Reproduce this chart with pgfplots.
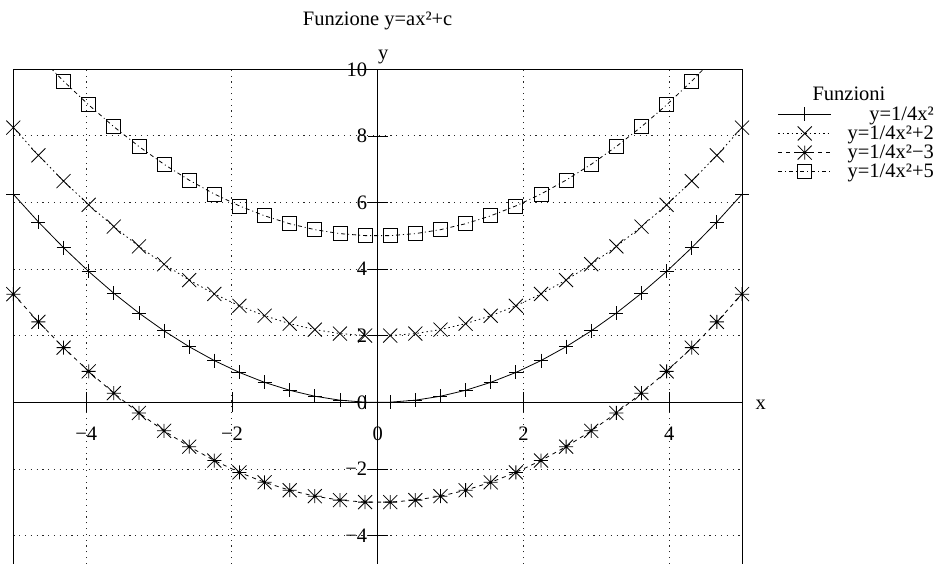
\documentclass[border=0pt]{standalone}
\usepackage{fontspec}
\setmainfont{Liberation Serif}
\usepackage{pgfplots}
\pgfplotsset{compat=1.18}
\usepackage{pgfplotstable}

% gnuplot-like point types
\pgfdeclareplotmark{gpcross}{%
  \pgfpathmoveto{\pgfqpoint{-\pgfplotmarksize}{-\pgfplotmarksize}}%
  \pgfpathlineto{\pgfqpoint{\pgfplotmarksize}{\pgfplotmarksize}}%
  \pgfpathmoveto{\pgfqpoint{-\pgfplotmarksize}{\pgfplotmarksize}}%
  \pgfpathlineto{\pgfqpoint{\pgfplotmarksize}{-\pgfplotmarksize}}%
  \pgfusepathqstroke}
\pgfdeclareplotmark{gpstar}{%
  \pgfpathmoveto{\pgfqpoint{-\pgfplotmarksize}{0pt}}%
  \pgfpathlineto{\pgfqpoint{\pgfplotmarksize}{0pt}}%
  \pgfpathmoveto{\pgfqpoint{0pt}{-\pgfplotmarksize}}%
  \pgfpathlineto{\pgfqpoint{0pt}{\pgfplotmarksize}}%
  \pgfpathmoveto{\pgfqpoint{-\pgfplotmarksize}{-\pgfplotmarksize}}%
  \pgfpathlineto{\pgfqpoint{\pgfplotmarksize}{\pgfplotmarksize}}%
  \pgfpathmoveto{\pgfqpoint{-\pgfplotmarksize}{\pgfplotmarksize}}%
  \pgfpathlineto{\pgfqpoint{\pgfplotmarksize}{-\pgfplotmarksize}}%
  \pgfusepathqstroke}

% y = x^2/4 + c sampled at 30 points on [-5,5]
\pgfplotstableread{
x y0 y2 ym3 y5
-5.000000 6.25000 8.25000 3.25000 11.25000
-4.655172 5.41766 7.41766 2.41766 10.41766
-4.310345 4.64477 6.64477 1.64477 9.64477
-3.965517 3.93133 5.93133 0.93133 8.93133
-3.620690 3.27735 5.27735 0.27735 8.27735
-3.275862 2.68282 4.68282 -0.31718 7.68282
-2.931034 2.14774 4.14774 -0.85226 7.14774
-2.586207 1.67212 3.67212 -1.32788 6.67212
-2.241379 1.25594 3.25594 -1.74406 6.25594
-1.896552 0.89923 2.89923 -2.10077 5.89923
-1.551724 0.60196 2.60196 -2.39804 5.60196
-1.206897 0.36415 2.36415 -2.63585 5.36415
-0.862069 0.18579 2.18579 -2.81421 5.18579
-0.517241 0.06688 2.06688 -2.93312 5.06688
-0.172414 0.00743 2.00743 -2.99257 5.00743
0.172414 0.00743 2.00743 -2.99257 5.00743
0.517241 0.06688 2.06688 -2.93312 5.06688
0.862069 0.18579 2.18579 -2.81421 5.18579
1.206897 0.36415 2.36415 -2.63585 5.36415
1.551724 0.60196 2.60196 -2.39804 5.60196
1.896552 0.89923 2.89923 -2.10077 5.89923
2.241379 1.25594 3.25594 -1.74406 6.25594
2.586207 1.67212 3.67212 -1.32788 6.67212
2.931034 2.14774 4.14774 -0.85226 7.14774
3.275862 2.68282 4.68282 -0.31718 7.68282
3.620690 3.27735 5.27735 0.27735 8.27735
3.965517 3.93133 5.93133 0.93133 8.93133
4.310345 4.64477 6.64477 1.64477 9.64477
4.655172 5.41766 7.41766 2.41766 10.41766
5.000000 6.25000 8.25000 3.25000 11.25000
}\datatab

\begin{document}
\begin{tikzpicture}[font=\fontsize{20.5}{24}\selectfont]
\useasboundingbox (0,0) rectangle (935pt,564pt);
\begin{axis}[
  at={(13.3pt,0pt)}, anchor=south west,
  scale only axis, width=728.7pt, height=494.7pt,
  xmin=-5, xmax=5, ymin=-4.85, ymax=10,
  axis lines=middle,
  axis line style={-, line width=1pt},
  every inner x axis line/.append style={-},
  every inner y axis line/.append style={-},
  xtick={-4,-2,0,2,4}, xticklabels={−4,−2,0,2,4},
  ytick={-4,-2,0,2,4,6,8,10}, yticklabels={−4,−2,0,2,4,6,8,10},
  hide obscured x ticks=false, hide obscured y ticks=false,
  tick align=center, major tick length=20pt,
  tick style={black, line width=0.8pt},
  grid=major,
  grid style={black!85, line width=0.9pt, dash pattern=on 1.2pt off 4.6pt},
  tick label style={font=\fontsize{20.5}{24}\selectfont},
  xticklabel style={yshift=-11pt},
  yticklabel style={xshift=3pt},
  clip mode=individual,
  legend cell align=right,
  legend style={draw=none, fill=none,
    at={(axis description cs:1.2649,0.9264)}, anchor=north east,
    inner sep=0pt, row sep=2pt, column sep=15pt, nodes={inner sep=1pt},
    font=\fontsize{20.5}{24}\selectfont},
  legend image code/.code={%
    \draw[mark repeat=2,mark phase=2]
      plot coordinates {(0pt,0pt) (26.5pt,0pt) (53pt,0pt)};},
]
\addplot[black, line width=0.8pt, mark=+, mark size=7pt]
  table[x=x, y=y0]{\datatab};
\addlegendentry{y=1/4x²}
\addplot[black, line width=0.8pt, dash pattern=on 1.5pt off 3pt,
  mark=gpcross, mark size=7pt, mark options={solid}]
  table[x=x, y=y2]{\datatab};
\addlegendentry{y=1/4x²+2}
\addplot[black, line width=0.8pt, dash pattern=on 4pt off 4pt,
  mark=gpstar, mark size=7pt, mark options={solid}]
  table[x=x, y=ym3]{\datatab};
\addlegendentry{y=1/4x²−3}
\addplot[black, line width=0.8pt, dash pattern=on 4pt off 3pt on 1pt off 3pt,
  mark=square, mark size=7pt, mark options={solid}]
  table[x=x, y=y5]{\datatab};
\addlegendentry{y=1/4x²+5}

% open frame (left, top, right)
\draw[line width=1pt] (rel axis cs:0,0) -- (rel axis cs:0,1)
  -- (rel axis cs:1,1) -- (rel axis cs:1,0);
\node[anchor=base, yshift=44pt] at (axis cs:0,10) {Funzione y=ax²+c};
\node[anchor=base, xshift=5.7pt, yshift=10pt] at (axis cs:0,10) {y};
\node[anchor=base west, xshift=10pt, yshift=-7pt] at (axis cs:5,0) {x};
\node[anchor=base] at (axis description cs:1.1468,0.9365) {Funzioni};
\end{axis}
\end{tikzpicture}
\end{document}
